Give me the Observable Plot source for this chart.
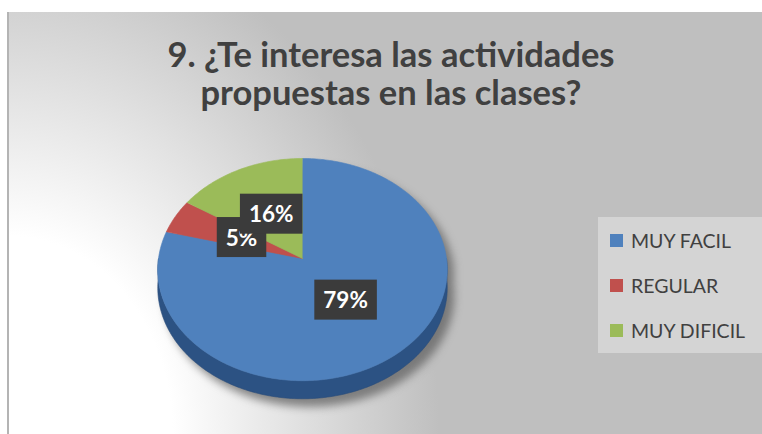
<!DOCTYPE html>
<html><head><meta charset="utf-8">
<script src="https://cdn.jsdelivr.net/npm/d3@7"></script>
<script src="https://cdn.jsdelivr.net/npm/@observablehq/plot@0.6"></script>
<style>
body{margin:0;background:#fff;}
#wrap{position:relative;width:762px;height:434px;overflow:hidden;font-family:Lato,"Open Sans",sans-serif;}
#bg{position:absolute;left:7px;top:12px;right:0;bottom:0;border-left:2px solid #b4b4b4;
  background:radial-gradient(ellipse 430px 520px at 0% 100%, #ffffff 0%, #ffffff 38%, #bfbfbf 100%);}
#title{position:absolute;left:0;width:782px;top:35px;text-align:center;font-weight:700;font-size:34.5px;line-height:38px;color:#404040;}
#legend{position:absolute;left:598px;top:217px;width:164px;height:136px;background:#d4d4d4;}
.li{position:absolute;left:12px;height:24px;display:flex;align-items:center;font-size:19.5px;color:#404040;white-space:nowrap;}
.sw{width:13px;height:13px;margin-right:8px;flex:none;}
#chart{position:absolute;left:0;top:0;}
</style></head>
<body>
<div id="wrap">
  <div id="bg"></div>
  <div id="title">9. ¿Te interesa las actividades<br>propuestas en las clases?</div>
  <div id="chart"></div>
  <div id="legend"></div>
</div>
<script>
const categories = ["MUY FACIL", "REGULAR", "MUY DIFICIL"];
const values = [79, 5, 16];
const labels = ["79%", "5%", "16%"];
const colors = ["#4f81bd", "#c0504d", "#9bbb59"];

// simple perspective for a tilted disk: a = right, b = toward viewer (down)
const k = 0.1;
const depth = 0.164;
function proj(theta, r) {
  const a = Math.sin(theta) * r, b = -Math.cos(theta) * r;
  const p = 1 / (1 - k * b);
  return [a * p, b * p];
}
const total = d3.sum(values);
const rad = d => d * Math.PI / 180;

// slices (top face)
const slicePts = [];
let acc = 0;
categories.forEach((c, i) => {
  const s = acc / total * 2 * Math.PI;
  acc += values[i];
  const e = acc / total * 2 * Math.PI;
  slicePts.push({cat: c, x: 0, y: 0});
  const n = Math.max(2, Math.ceil((e - s) / rad(1)));
  for (let j = 0; j <= n; j++) {
    const [x, y] = proj(s + (e - s) * j / n, 1);
    slicePts.push({cat: c, x, y});
  }
});

// side wall (front half)
const wallPts = [];
for (let d = 90; d <= 270; d++) { const [x, y] = proj(rad(d), 1); wallPts.push({x, y}); }
for (let d = 270; d >= 90; d--) { const [x, y] = proj(rad(d), 1); wallPts.push({x, y: y + depth}); }

// shadow outline
const shadowPts = [];
for (let d = 90; d <= 270; d++) { const [x, y] = proj(rad(d), 1); shadowPts.push({x, y: y + depth}); }
for (let d = 270; d <= 450; d++) { const [x, y] = proj(rad(d), 1); shadowPts.push({x, y}); }

// label positions
const labelPts = [];
acc = 0;
categories.forEach((c, i) => {
  const mid = (acc + values[i] / 2) / total * 2 * Math.PI;
  acc += values[i];
  const [x, y] = proj(mid, 0.47);
  labelPts.push({cat: c, label: labels[i], x, y});
});

const chart = Plot.plot({
  width: 762,
  height: 434,
  x: {domain: [-1, 1], range: [158, 446], axis: null},
  y: {domain: [-1, 1], range: [148, 368], axis: null},
  color: {domain: categories, range: colors},
  style: {background: "transparent", overflow: "visible"},
  marks: [
    Plot.line(shadowPts, {x: "x", y: "y", fill: "#5a5a5a", fillOpacity: 0.7, stroke: "none", dx: 7, dy: 8}),
    Plot.line(wallPts, {x: "x", y: "y", fill: "#2c5283", stroke: "#294c7a", strokeWidth: 0.6}),
    Plot.line(slicePts, {x: "x", y: "y", z: "cat", fill: "cat", stroke: "cat", strokeWidth: 0.6}),
    Plot.text(labelPts, {x: "x", y: "y", text: "label", fill: "white", fontSize: 22.5, fontWeight: "bold", fontFamily: "Lato, sans-serif"})
  ]
});
document.getElementById("chart").append(chart);

const lineGroups = chart.querySelectorAll('g[aria-label="line"]');
if (lineGroups.length) lineGroups[0].setAttribute("style", "filter: blur(4px)");
chart.querySelectorAll('g[aria-label="text"] text').forEach(function(el) {
  const bb = el.getBBox();
  const cy = bb.y + bb.height / 2;
  const r = document.createElementNS("http://www.w3.org/2000/svg", "rect");
  r.setAttribute("x", bb.x - 9);
  r.setAttribute("width", bb.width + 18);
  r.setAttribute("y", cy - 20);
  r.setAttribute("height", 40);
  r.setAttribute("fill", "#3b3b3b");
  const t = el.getAttribute("transform");
  if (t) r.setAttribute("transform", t);
  el.parentNode.insertBefore(r, el);
});

const color = chart.scale("color");
const legend = document.getElementById("legend");
const tops = [11, 56, 101];
categories.forEach((c, i) => {
  const item = document.createElement("div");
  item.className = "li";
  item.style.top = tops[i] + "px";
  const sw = document.createElement("span");
  sw.className = "sw";
  sw.style.background = color.apply(c);
  const tx = document.createElement("span");
  tx.textContent = c;
  item.append(sw, tx);
  legend.append(item);
});
</script>
</body></html>
